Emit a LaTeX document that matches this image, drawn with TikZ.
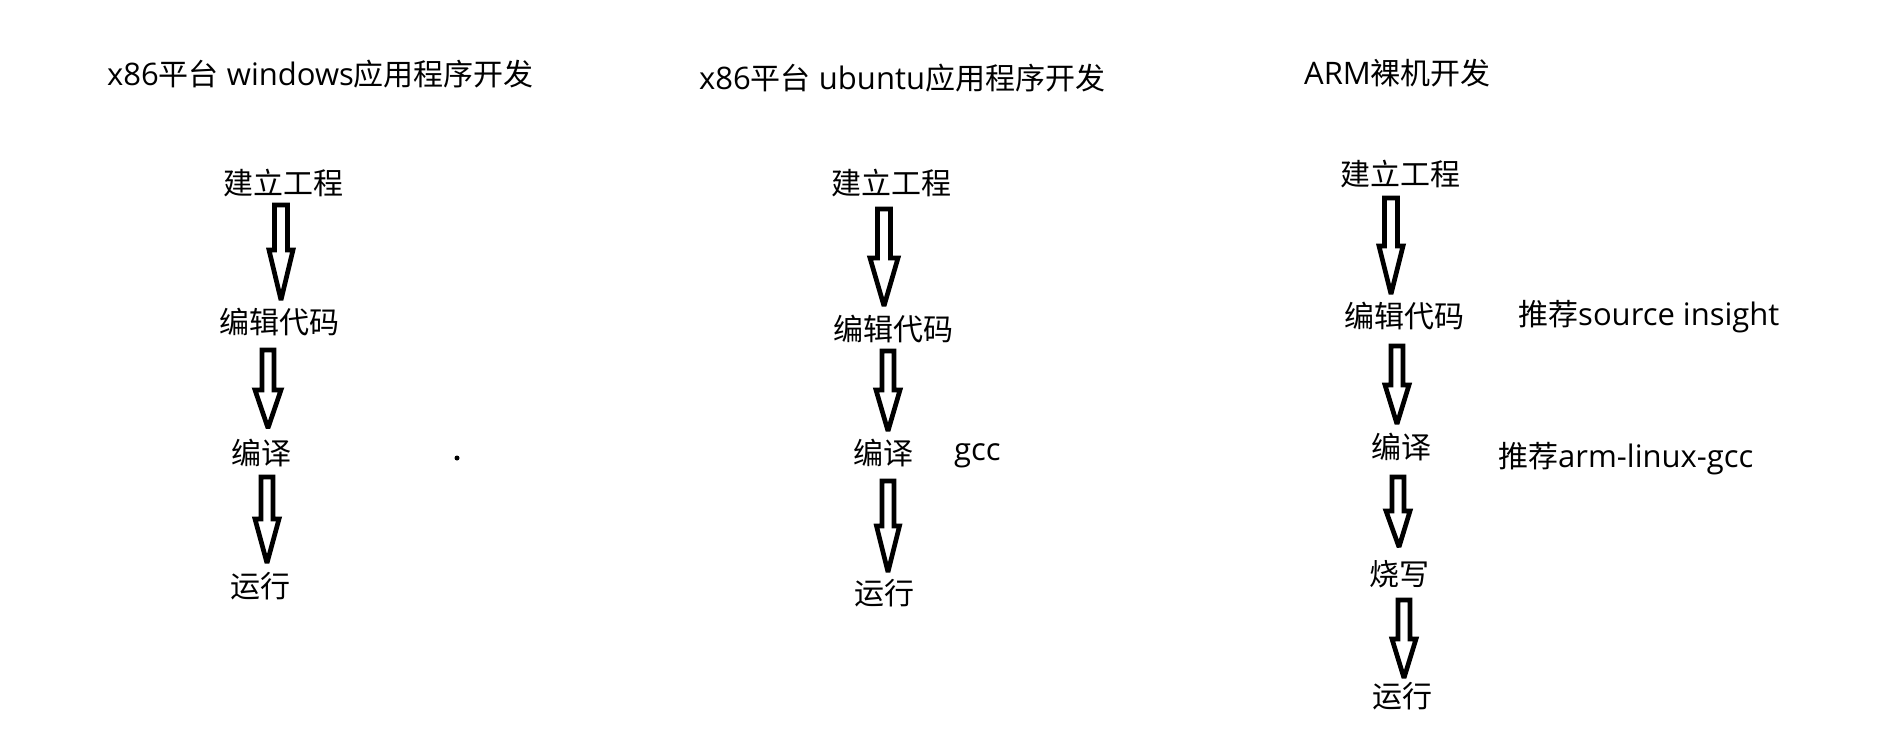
\documentclass[tikz,border=0pt]{standalone}
\usepackage{fontspec}
\setmainfont{Open Sans}
\newfontfamily\cjk{Noto Sans CJK SC}
\usetikzlibrary{calc}
\newcommand\zh[1]{{\cjk\fontsize{30}{36}\selectfont #1}}
\tikzset{
  lbl/.style={inner sep=0pt, font=\fontsize{30}{36}\selectfont\cjk, anchor=base},
  txt/.style={inner sep=0pt, font=\fontsize{31}{36}\selectfont, anchor=base west},
  blockarrow/.style={draw=black, fill=white, line width=4.7pt, line join=miter, miter limit=2.5}
}
\newcommand\hollowarrow[5]{%
  \draw[blockarrow] let \p1=(#1), \p2=(#2) in
    (\x1-#3,\y1) -- (\x1+#3,\y1) -- (\x1+#3,\y2+#5) -- (\x1+#4,\y2+#5)
    -- (\x2,\y2) -- (\x1-#4,\y2+#5) -- (\x1-#3,\y2+#5) -- cycle;}
\begin{document}
\begin{tikzpicture}[x=1pt,y=-1pt]
\useasboundingbox (0,0) rectangle (1901,748);
\fill[white] (0,0) rectangle (1901,748);
% column 1
\node[txt] (t1) at (107,85) {x86\zh{平台} windows\zh{应用程序开发}};
\node[lbl] (w1) at (283,194) {建立工程};
\node[lbl] (w2) at (279,333) {编辑代码};
\node[lbl] (w3) at (261,464) {编译};
\node[lbl] (w4) at (260,597) {运行};
\coordinate (w1s) at (281,205); \coordinate (w1t) at (281,300);
\coordinate (w2s) at (268,350); \coordinate (w2t) at (268,428);
\coordinate (w3s) at (267,477); \coordinate (w3t) at (267,563);
\hollowarrow{w1s}{w1t}{6.5pt}{12pt}{50pt}
\hollowarrow{w2s}{w2t}{6pt}{13pt}{38pt}
\hollowarrow{w3s}{w3t}{6pt}{12pt}{44pt}
\fill[black] (457,458) circle (2.5);
% column 2
\node[txt] (t2) at (699,89) {x86\zh{平台} ubuntu\zh{应用程序开发}};
\node[lbl] (u1) at (891,194) {建立工程};
\node[lbl] (u2) at (893,340) {编辑代码};
\node[lbl] (u3) at (883,464) {编译};
\node[txt] (gcc) at (954,460) {gcc};
\node[lbl] (u4) at (884,604) {运行};
\coordinate (u1s) at (884,209); \coordinate (u1t) at (884,306);
\coordinate (u2s) at (888,351); \coordinate (u2t) at (888,431);
\coordinate (u3s) at (888,481); \coordinate (u3t) at (888,572);
\hollowarrow{u1s}{u1t}{6.5pt}{14pt}{48pt}
\hollowarrow{u2s}{u2t}{6pt}{12pt}{41pt}
\hollowarrow{u3s}{u3t}{6pt}{11.5pt}{46pt}
% column 3
\node[txt] (t3) at (1304,84) {ARM\zh{裸机开发}};
\node[lbl] (r1) at (1400,185) {建立工程};
\node[lbl] (r2) at (1404,327) {编辑代码};
\node[txt] (si) at (1518,325) {\zh{推荐}source insight};
\node[lbl] (r3) at (1401,458) {编译};
\node[txt] (alg) at (1498,467) {\zh{推荐}arm-linux-gcc};
\node[lbl] (r4) at (1399,585) {烧写};
\node[lbl] (r5) at (1402,707) {运行};
\coordinate (r1s) at (1391,198); \coordinate (r1t) at (1391,294);
\coordinate (r2s) at (1397,346); \coordinate (r2t) at (1397,424);
\coordinate (r3s) at (1398,477); \coordinate (r3t) at (1399,547);
\coordinate (r4s) at (1404,600); \coordinate (r4t) at (1404,678);
\hollowarrow{r1s}{r1t}{6.5pt}{12pt}{48pt}
\hollowarrow{r2s}{r2t}{6pt}{12pt}{39pt}
\hollowarrow{r3s}{r3t}{6pt}{12pt}{36pt}
\hollowarrow{r4s}{r4t}{6pt}{12pt}{39pt}
\end{tikzpicture}
\end{document}
